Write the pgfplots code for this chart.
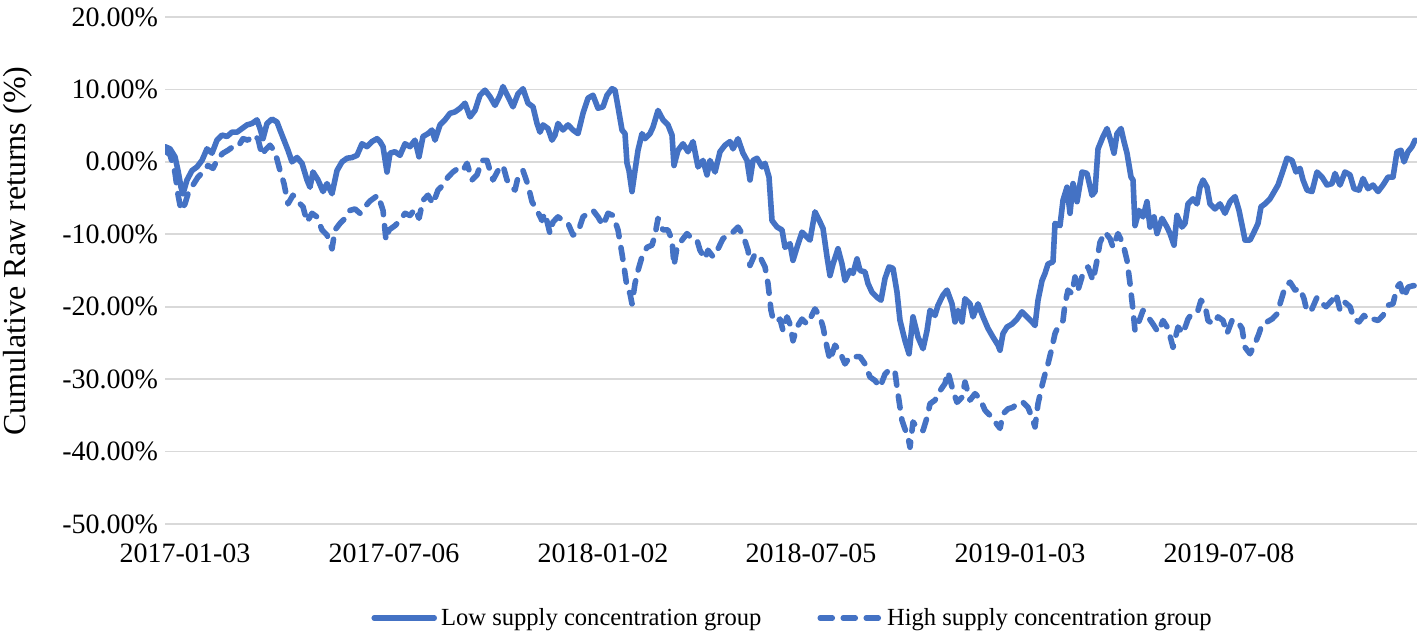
\documentclass[border=0pt]{standalone}
\usepackage{fontspec}
\setmainfont{Liberation Serif}
\usepackage{pgfplots}
\pgfplotsset{compat=1.18}
\definecolor{xlblue}{RGB}{68,114,196}
\definecolor{gridgray}{RGB}{217,217,217}

% x = position along the trading-day axis, y = cumulative return in %
\pgfplotstableread{
x y
165 2.1
170 1.8
175 0.7
178 -1.2
181 -3.5
183 -4.4
187 -2.5
192 -1.2
197 -0.7
202 0.2
207 1.8
212 1.2
217 3.0
222 3.7
227 3.5
232 4.1
237 4.1
242 4.6
247 5.1
252 5.3
257 5.8
260 4.6
263 3.2
267 5.3
272 5.9
277 5.5
280 4.4
284 3.0
288 1.6
292 0
297 0.6
302 -0.2
307 -2.5
310 -3.5
313 -1.4
318 -2.5
323 -4.1
327 -3.0
332 -4.4
337 -1.2
342 0
347 0.5
352 0.6
357 0.9
362 2.5
367 2.1
372 2.8
377 3.2
380 2.8
383 2.1
387 -1.4
390 1.2
395 1.4
400 0.9
405 2.5
410 2.1
415 3.0
419 0.7
423 3.5
428 3.9
432 4.4
435 3.0
440 5.1
445 5.8
450 6.7
455 6.9
460 7.4
465 8.1
470 6.2
475 7.1
480 9.2
485 9.9
490 9.0
495 7.8
500 9.2
503 10.4
508 9.0
513 7.6
518 9.4
523 10.1
528 8.1
533 7.6
537 5.3
540 4.1
543 5.1
548 4.6
552 3.0
555 3.7
558 5.3
563 4.4
568 5.1
573 4.4
578 3.9
583 6.7
588 8.8
593 9.2
598 7.4
603 7.6
607 9.2
612 10.1
615 9.9
618 7.6
622 4.4
625 3.9
627 -0.2
629 -1.2
632 -4.1
635 -1.2
638 1.6
642 3.9
645 3.2
650 3.9
653 4.8
658 7.1
663 5.8
668 5.1
672 3.7
674 -0.5
678 1.6
683 2.5
688 1.4
693 2.8
698 -0.7
703 0.2
707 -1.8
710 0.2
715 -1.4
720 1.4
725 2.3
730 2.8
733 1.8
738 3.2
743 1.2
747 0.2
750 -2.5
753 0.2
757 0.5
762 -0.7
765 -0.2
769 -2.1
772 -8.1
777 -9.0
782 -9.4
785 -11.8
790 -11.3
793 -13.6
797 -11.8
802 -9.7
807 -10.4
810 -10.8
815 -6.9
820 -8.3
823 -9.2
827 -13.1
830 -15.7
833 -14.1
838 -12.0
842 -14.1
845 -16.4
850 -15.0
853 -15.4
857 -13.4
860 -15.0
865 -15.2
868 -16.8
872 -18.0
877 -18.7
881 -19.1
885 -16.1
889 -14.5
893 -14.7
897 -18.0
900 -21.9
905 -24.7
909 -26.5
913 -21.4
918 -24.2
923 -25.8
927 -23.3
930 -20.5
935 -21.2
938 -19.8
943 -18.4
947 -17.7
952 -19.6
955 -22.1
958 -20.5
962 -22.1
965 -18.9
970 -19.6
973 -21.4
978 -19.6
983 -21.4
988 -23.0
993 -24.2
998 -25.3
1000 -26.0
1003 -23.7
1007 -22.8
1012 -22.4
1017 -21.7
1022 -20.7
1027 -21.4
1032 -22.1
1035 -22.6
1038 -19.1
1042 -16.4
1045 -15.4
1048 -14.1
1053 -13.8
1055 -8.5
1060 -8.8
1063 -5.3
1067 -3.5
1070 -7.1
1073 -3.0
1077 -5.5
1082 -1.4
1087 -1.6
1092 -4.6
1095 -4.1
1098 1.8
1103 3.5
1107 4.6
1111 2.8
1114 1.2
1117 3.9
1121 4.6
1124 2.8
1127 1.2
1131 -2.1
1133 -2.5
1135 -8.8
1139 -6.7
1143 -7.6
1147 -5.5
1150 -9.0
1154 -7.6
1157 -9.9
1162 -7.8
1167 -9.0
1170 -9.9
1174 -11.5
1177 -7.4
1182 -9.0
1185 -8.5
1188 -5.8
1193 -5.1
1197 -5.8
1200 -3.5
1203 -2.5
1207 -3.5
1210 -5.8
1215 -6.5
1220 -5.8
1225 -7.1
1230 -5.5
1235 -4.8
1239 -6.7
1243 -9.4
1245 -10.8
1250 -10.8
1255 -9.4
1258 -8.5
1261 -6.2
1265 -5.8
1270 -5.1
1273 -4.4
1278 -3.2
1283 -1.2
1287 0.5
1292 0.2
1296 -1.4
1300 -0.9
1303 -2.5
1307 -3.9
1312 -4.1
1317 -1.4
1322 -2.1
1327 -3.2
1332 -3.0
1335 -1.6
1340 -3.2
1345 -1.4
1350 -1.8
1354 -3.7
1359 -3.9
1363 -2.3
1368 -3.7
1373 -3.2
1378 -4.1
1383 -3.2
1388 -2.1
1393 -2.1
1397 1.4
1401 1.6
1404 0
1408 1.4
1412 2.1
1415 3.0
}\lowgroup

\pgfplotstableread{
x y
165 1.5
170 1.0
175 -1.5
178 -4.5
181 -6.7
185 -5.8
188 -4.4
193 -3.2
198 -2.1
203 -1.4
208 -0.5
213 -0.9
218 0.5
223 1.2
228 1.6
233 2.1
238 2.1
243 3.2
248 3.0
253 3.7
258 3.2
262 0.9
265 1.6
270 2.3
275 1.4
280 -1.2
284 -3.0
288 -5.8
293 -4.6
298 -5.5
303 -6.2
307 -8.3
312 -7.1
317 -7.6
322 -9.4
327 -10.1
332 -12.0
335 -9.4
340 -8.5
345 -7.8
350 -6.7
355 -6.5
360 -7.1
365 -6.2
370 -5.4
375 -4.9
378 -4.6
383 -6.7
386 -10.8
389 -9.4
395 -8.8
400 -8.1
405 -7.1
410 -7.4
415 -6.5
419 -7.8
423 -5.3
428 -4.6
433 -5.8
438 -3.9
443 -3.2
448 -2.1
453 -1.4
458 -0.9
463 -1.2
467 -0.2
472 -2.5
477 -1.8
482 0.2
487 0.2
490 -1.2
493 -2.5
498 -1.2
503 -0.5
507 -2.5
512 -3.5
515 -3.9
518 -2.1
523 -1.2
528 -3.2
532 -5.5
537 -6.7
542 -8.1
545 -7.1
550 -9.9
553 -8.3
558 -7.6
563 -8.1
568 -8.5
573 -10.1
578 -9.7
583 -7.6
588 -7.1
593 -6.7
598 -7.6
603 -8.8
608 -7.1
613 -7.4
618 -9.4
622 -12.7
625 -15.4
627 -17.3
630 -18.2
632 -19.6
635 -16.8
638 -15.0
642 -13.1
647 -11.8
652 -11.5
655 -10.1
658 -7.8
663 -9.4
668 -9.4
672 -10.8
674 -14.3
677 -11.8
682 -10.8
687 -9.9
692 -10.6
697 -10.8
700 -12.2
705 -13.4
708 -12.2
713 -13.1
718 -12.0
723 -10.6
728 -10.1
733 -9.7
738 -9.0
743 -10.1
748 -12.2
750 -14.3
755 -12.7
760 -13.1
765 -14.5
768 -16.8
771 -20.5
773 -21.7
777 -22.1
780 -21.7
783 -23.3
787 -21.4
790 -22.4
793 -24.7
797 -22.8
802 -21.7
807 -22.4
810 -21.7
815 -20.3
820 -21.4
823 -22.8
827 -25.6
830 -27.4
835 -25.3
840 -26.3
845 -27.9
850 -26.9
855 -26.9
860 -26.9
865 -27.9
870 -29.7
875 -30.2
880 -31.1
885 -29.3
890 -28.6
895 -29.0
897 -31.1
900 -33.9
902 -35.7
905 -36.9
908 -38.0
910 -39.4
913 -35.9
918 -36.9
923 -37.1
927 -35.3
930 -33.4
935 -32.9
940 -31.6
945 -30.6
948 -29.0
953 -31.6
957 -33.2
962 -32.5
965 -30.4
970 -32.9
975 -32.0
980 -32.7
985 -34.3
990 -35.0
995 -35.9
1000 -36.8
1003 -34.8
1008 -34.1
1013 -33.9
1018 -33.2
1023 -33.2
1028 -33.9
1032 -35.3
1035 -36.6
1038 -33.4
1042 -30.9
1045 -29.3
1048 -27.9
1052 -25.6
1055 -23.7
1058 -22.8
1063 -21.9
1065 -19.6
1068 -17.7
1072 -18.2
1075 -15.9
1078 -17.7
1083 -15.4
1088 -14.5
1093 -16.4
1097 -13.6
1100 -11.1
1105 -9.7
1110 -10.6
1113 -11.8
1118 -9.9
1123 -11.3
1127 -13.6
1130 -16.8
1133 -20.5
1135 -23.3
1138 -22.4
1143 -20.5
1148 -21.4
1153 -22.4
1158 -23.5
1163 -21.9
1168 -23.0
1173 -25.6
1178 -22.8
1183 -23.7
1188 -21.7
1193 -20.7
1198 -20.5
1201 -19.1
1205 -19.8
1208 -21.9
1213 -22.4
1218 -21.4
1223 -21.9
1227 -23.7
1232 -21.9
1237 -21.9
1242 -23.0
1245 -25.6
1250 -26.5
1255 -25.1
1259 -23.7
1262 -22.4
1267 -22.1
1272 -21.7
1277 -21.0
1280 -19.6
1285 -17.3
1290 -16.6
1295 -17.7
1300 -17.5
1304 -18.9
1307 -20.7
1312 -20.3
1317 -18.7
1321 -19.4
1326 -20.0
1332 -19.1
1336 -18.2
1340 -20.5
1345 -19.4
1350 -20.0
1354 -21.7
1359 -22.1
1364 -21.2
1369 -21.9
1373 -21.7
1378 -21.9
1383 -21.2
1388 -19.8
1393 -19.6
1397 -17.3
1400 -16.8
1404 -18.7
1408 -17.3
1413 -17.1
1416 -17.1
}\highgroup

\begin{document}
\begin{tikzpicture}
\path[use as bounding box] (0,0) rectangle (708.5pt,316.5pt);
\begin{axis}[
    at={(82.5pt,54.5pt)}, anchor=south west,
    scale only axis, width=626pt, height=253.5pt,
    xmin=165, xmax=1417, ymin=-50, ymax=20,
    axis line style={draw=none},
    major tick length=0pt,
    ytick={-50,-40,-30,-20,-10,0,10,20},
    yticklabels={-50.00\%,-40.00\%,-30.00\%,-20.00\%,-10.00\%,0.00\%,10.00\%,20.00\%},
    xtick={185,394,603,811,1020,1229},
    xticklabels={2017-01-03,2017-07-06,2018-01-02,2018-07-05,2019-01-03,2019-07-08},
    ymajorgrids, grid style={gridgray, line width=0.8pt},
    tick label style={font=\fontsize{14}{16}\selectfont},
    xticklabel style={yshift=-6.5pt},
    ylabel={Cumulative Raw returns (\%)},
    ylabel style={font=\fontsize{16}{18}\selectfont, at={(axis description cs:-0.1174,0.5385)}, anchor=center},
    legend columns=2,
    legend style={at={(0.502,-0.1854)}, anchor=center, draw=none, fill=none,
        font=\fontsize{12.3}{14}\selectfont,
        /tikz/every even column/.append style={column sep=26pt}},
    legend image code/.code={\draw[#1] (0pt,0pt) -- (30pt,0pt);},
]
\addplot[xlblue, line width=2.8pt, line join=round, line cap=round] table[x=x, y=y] {\lowgroup};
\addlegendentry{Low supply concentration group}
\addplot[xlblue, line width=2.8pt, line join=round, line cap=round, dash pattern=on 6pt off 5.5pt] table[x=x, y=y] {\highgroup};
\addlegendentry{High supply concentration group}
\end{axis}
\end{tikzpicture}
\end{document}
